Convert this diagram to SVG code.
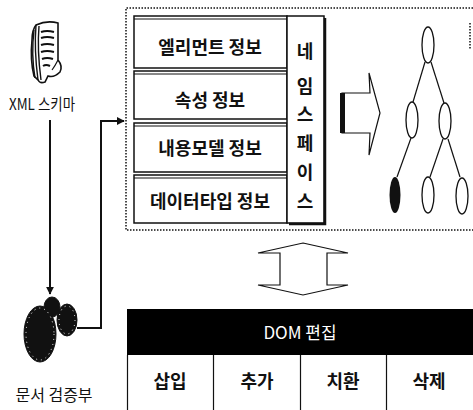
<svg xmlns="http://www.w3.org/2000/svg" width="473" height="410" viewBox="0 0 473 410">
  <defs>
    <style>
      text { font-family: "Noto Sans CJK KR", "Noto Sans", sans-serif; fill: #111; }
      .lbl { font-size: 18px; font-weight: bold; text-anchor: middle; dominant-baseline: central; }
      .cap { font-size: 16px; text-anchor: middle; dominant-baseline: central; }
      .row { fill: #fff; stroke: #111; stroke-width: 1.5; }
      .line { fill: none; stroke: #111; stroke-width: 2; }
      .thin { fill: none; stroke: #111; stroke-width: 1.2; }
      .node { fill: #fff; stroke: #111; stroke-width: 1.3; }
      .gear { fill: #111; stroke: #111; stroke-width: 1; }
      .teeth { fill: none; stroke: #fff; stroke-width: 1; stroke-dasharray: 1 4; }
    </style>
    <marker id="arr" viewBox="0 0 10 10" refX="9" refY="5" markerWidth="4" markerHeight="4" orient="auto" markerUnits="strokeWidth">
      <path d="M0,0 L10,5 L0,10 z" fill="#111"/>
    </marker>
  </defs>

  <!-- XML schema document icon -->
  <g id="xml-schema">
    <path d="M36,25 Q47,20 58,23 L58,60 Q63,66 60,72 Q54,78 48,76 L45,82 Q40,84 38,80 L34,76 Q30,60 32,40 Q32,30 36,25 Z" fill="#fff" stroke="#111" stroke-width="1.6"/>
    <path d="M36,25 Q34,50 38,80 M34,30 Q31,55 35,78 M39,26 Q37,50 41,80" fill="none" stroke="#111" stroke-width="1.4"/>
    <path class="thin" d="M58,60 Q55,66 52,70"/>
    <g stroke="#111" stroke-width="2" fill="none">
      <path d="M41,32 Q47,30 54,32"/>
      <path d="M41,38 Q47,36 54,38"/>
      <path d="M41,45 Q47,43 54,45"/>
      <path d="M41,52 Q47,50 54,52"/>
      <path d="M42,59 Q47,57 53,59"/>
      <path d="M43,66 Q46,64 50,66"/>
    </g>
    <text class="cap" x="42" y="103" textLength="66" lengthAdjust="spacingAndGlyphs">XML 스키마</text>
  </g>

  <!-- Document validator (gears) -->
  <g id="validator">
    <ellipse class="gear" cx="67" cy="320" rx="10" ry="16"/>
    <ellipse class="teeth" cx="67" cy="320" rx="8" ry="14"/>
    <ellipse class="gear" cx="52" cy="307" rx="8" ry="10"/>
    <ellipse class="gear" cx="40" cy="334" rx="16" ry="28"/>
    <ellipse class="teeth" cx="40" cy="334" rx="14" ry="26"/>
    <text class="cap" x="54" y="394">문서 검증부</text>
  </g>

  <!-- Schema information box -->
  <g id="schema-info">
    <path d="M473,8 H126 V230 H473 M470,23 V50" fill="none" stroke="#111" stroke-width="1.5" stroke-dasharray="1.5 1.5"/>
    <rect class="row" x="134" y="16" width="153" height="52"/>
    <line x1="134" y1="19" x2="287" y2="19" stroke="#111" stroke-width="1"/>
    <rect class="row" x="134" y="71" width="153" height="48"/>
    <line x1="134" y1="74" x2="287" y2="74" stroke="#111" stroke-width="1"/>
    <rect class="row" x="134" y="123" width="153" height="49"/>
    <line x1="134" y1="126" x2="287" y2="126" stroke="#111" stroke-width="1"/>
    <rect class="row" x="134" y="175" width="153" height="48"/>
    <line x1="134" y1="178" x2="287" y2="178" stroke="#111" stroke-width="1"/>
    <text class="lbl" x="210" y="46">엘리먼트 정보</text>
    <text class="lbl" x="210" y="99">속성 정보</text>
    <text class="lbl" x="210" y="147">내용모델 정보</text>
    <text class="lbl" x="210" y="200">데이터타입 정보</text>
  </g>

  <!-- Namespace column -->
  <g id="namespace">
    <rect class="row" x="287" y="16" width="37" height="207"/>
    <path d="M325,18 V224 H289" fill="none" stroke="#111" stroke-width="2.5"/>
    <text class="lbl" x="305" y="50">네</text>
    <text class="lbl" x="305" y="85">임</text>
    <text class="lbl" x="305" y="113">스</text>
    <text class="lbl" x="305" y="142">페</text>
    <text class="lbl" x="305" y="171">이</text>
    <text class="lbl" x="305" y="200">스</text>
  </g>

  <!-- Transform arrow -->
  <g id="to-tree">
    <path d="M342,93 H370 L369,73 L380,113 L369,155 L370,133 H342 Z" fill="#fff" stroke="#111" stroke-width="1.2"/>
    <rect x="340" y="93" width="5" height="40" fill="#111"/>
  </g>

  <!-- DOM tree -->
  <g id="dom-tree">
    <g class="thin">
      <line x1="425" y1="62" x2="413" y2="102"/>
      <line x1="431" y1="62" x2="444" y2="103"/>
      <line x1="411" y1="138" x2="397" y2="177"/>
      <line x1="443" y1="139" x2="430" y2="177"/>
      <line x1="448" y1="139" x2="460" y2="177"/>
    </g>
    <ellipse class="node" cx="428" cy="45" rx="6" ry="18"/>
    <ellipse class="node" cx="412" cy="120" rx="6" ry="18"/>
    <ellipse class="node" cx="445" cy="121" rx="6" ry="18"/>
    <ellipse cx="395" cy="195" rx="5.5" ry="18" fill="#111"/>
    <ellipse class="node" cx="428" cy="195" rx="6" ry="18"/>
    <ellipse class="node" cx="462" cy="196" rx="6" ry="18"/>
  </g>

  <!-- Two-way arrow -->
  <g id="sync-arrow">
    <path d="M303,243 L348,253 H327 V285 H348 L303,295 L258,285 H280 V253 H258 Z" fill="#fff" stroke="#111" stroke-width="1.2"/>
  </g>

  <!-- DOM editing table -->
  <g id="dom-edit">
    <rect x="127" y="309" width="346" height="46" fill="#000"/>
    <text x="300" y="331" font-size="17" text-anchor="middle" dominant-baseline="central" style="fill:#fff">DOM 편집</text>
    <g class="thin">
      <line x1="127.5" y1="355" x2="127.5" y2="410"/>
      <line x1="213.5" y1="355" x2="213.5" y2="410"/>
      <line x1="300.5" y1="355" x2="300.5" y2="410"/>
      <line x1="386.5" y1="355" x2="386.5" y2="410"/>
    </g>
    <text class="lbl" x="170" y="380">삽입</text>
    <text class="lbl" x="257" y="380">추가</text>
    <text class="lbl" x="343" y="380">치환</text>
    <text class="lbl" x="429" y="380">삭제</text>
  </g>

  <!-- Connectors -->
  <g id="connectors">
    <path class="line" d="M50,120 V294" marker-end="url(#arr)"/>
    <path class="line" d="M77,328 H101 V121 H124" marker-end="url(#arr)"/>
  </g>
</svg>
